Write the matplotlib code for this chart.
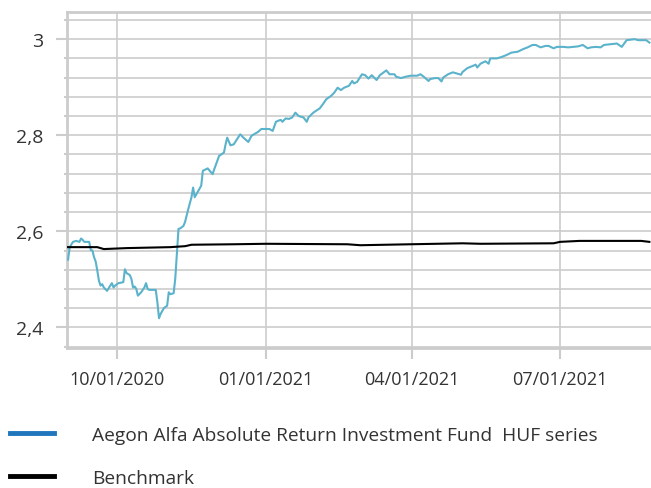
import numpy as np, pandas as pd
import matplotlib; matplotlib.use("Agg")
import matplotlib.pyplot as plt
import matplotlib.dates as mdates
from matplotlib.lines import Line2D
from matplotlib.ticker import FuncFormatter, MultipleLocator

FUND_COL, FUND_LEG, BENCH_COL, GRID = "#5ab3cb", "#1f76bd", "#000000", "#cccccc"
TXT = "#333333"

plt.rcParams.update({
    "font.family": ["Open Sans", "DejaVu Sans"],
    "font.size": 13,
})

# fund price (HUF series)
fund_dates = [
    "2020-09-01", "2020-09-02", "2020-09-04", "2020-09-06", "2020-09-08", "2020-09-09",
    "2020-09-10", "2020-09-11", "2020-09-14", "2020-09-15", "2020-09-16", "2020-09-17",
    "2020-09-18", "2020-09-19", "2020-09-20", "2020-09-21", "2020-09-22", "2020-09-23",
    "2020-09-25", "2020-09-27", "2020-09-28", "2020-09-29", "2020-09-30", "2020-10-02",
    "2020-10-05", "2020-10-06", "2020-10-07", "2020-10-09", "2020-10-10", "2020-10-11",
    "2020-10-12", "2020-10-13", "2020-10-14", "2020-10-16", "2020-10-18", "2020-10-19",
    "2020-10-20", "2020-10-21", "2020-10-25", "2020-10-26", "2020-10-27", "2020-10-28",
    "2020-10-30", "2020-11-01", "2020-11-02", "2020-11-03", "2020-11-05", "2020-11-06",
    "2020-11-08", "2020-11-09", "2020-11-11", "2020-11-12", "2020-11-14", "2020-11-16",
    "2020-11-17", "2020-11-18", "2020-11-22", "2020-11-23", "2020-11-26", "2020-11-29",
    "2020-11-30", "2020-12-03", "2020-12-06", "2020-12-07", "2020-12-08", "2020-12-10",
    "2020-12-12", "2020-12-16", "2020-12-18", "2020-12-21", "2020-12-23", "2020-12-27",
    "2020-12-29", "2021-01-03", "2021-01-04", "2021-01-05", "2021-01-07", "2021-01-09",
    "2021-01-10", "2021-01-11", "2021-01-13", "2021-01-15", "2021-01-17", "2021-01-19",
    "2021-01-21", "2021-01-24", "2021-01-26", "2021-01-27", "2021-01-30", "2021-02-03",
    "2021-02-05", "2021-02-07", "2021-02-10", "2021-02-12", "2021-02-14", "2021-02-16",
    "2021-02-18", "2021-02-21", "2021-02-23", "2021-02-24", "2021-02-26", "2021-03-01",
    "2021-03-03", "2021-03-05", "2021-03-07", "2021-03-10", "2021-03-12", "2021-03-16",
    "2021-03-18", "2021-03-21", "2021-03-22", "2021-03-25", "2021-03-28", "2021-03-31",
    "2021-04-04", "2021-04-06", "2021-04-08", "2021-04-11", "2021-04-12", "2021-04-15",
    "2021-04-17", "2021-04-19", "2021-04-20", "2021-04-23", "2021-04-26", "2021-04-30",
    "2021-05-01", "2021-05-02", "2021-05-05", "2021-05-08", "2021-05-10", "2021-05-11",
    "2021-05-13", "2021-05-16", "2021-05-18", "2021-05-19", "2021-05-23", "2021-05-26",
    "2021-05-29", "2021-06-01", "2021-06-05", "2021-06-08", "2021-06-11", "2021-06-14",
    "2021-06-16", "2021-06-19", "2021-06-22", "2021-06-24", "2021-06-27", "2021-06-29",
    "2021-07-03", "2021-07-06", "2021-07-09", "2021-07-12", "2021-07-15", "2021-07-18",
    "2021-07-20", "2021-07-23", "2021-07-26", "2021-07-28", "2021-08-02", "2021-08-05",
    "2021-08-08", "2021-08-11", "2021-08-16", "2021-08-18", "2021-08-23", "2021-08-25",
]
fund_values = [
    2.541, 2.567, 2.578, 2.580, 2.578, 2.585,
    2.582, 2.578, 2.578, 2.561, 2.560, 2.546,
    2.537, 2.518, 2.497, 2.487, 2.490, 2.483,
    2.476, 2.487, 2.492, 2.483, 2.487, 2.492,
    2.494, 2.521, 2.513, 2.509, 2.501, 2.483,
    2.485, 2.480, 2.466, 2.473, 2.483, 2.492,
    2.480, 2.478, 2.478, 2.452, 2.419, 2.428,
    2.440, 2.445, 2.473, 2.469, 2.471, 2.501,
    2.605, 2.606, 2.611, 2.619, 2.646, 2.671,
    2.691, 2.671, 2.695, 2.726, 2.731, 2.719,
    2.729, 2.757, 2.764, 2.781, 2.795, 2.779,
    2.781, 2.802, 2.795, 2.786, 2.799, 2.807,
    2.813, 2.813, 2.811, 2.809, 2.828, 2.831,
    2.832, 2.828, 2.835, 2.834, 2.837, 2.847,
    2.840, 2.837, 2.828, 2.837, 2.847, 2.856,
    2.865, 2.875, 2.882, 2.889, 2.899, 2.894,
    2.899, 2.903, 2.913, 2.908, 2.911, 2.927,
    2.925, 2.918, 2.925, 2.915, 2.925, 2.935,
    2.927, 2.927, 2.922, 2.919, 2.922, 2.924,
    2.924, 2.927, 2.922, 2.913, 2.917, 2.919,
    2.919, 2.912, 2.920, 2.927, 2.931, 2.927,
    2.926, 2.932, 2.940, 2.944, 2.947, 2.941,
    2.949, 2.954, 2.949, 2.960, 2.960, 2.963,
    2.967, 2.972, 2.974, 2.979, 2.983, 2.988,
    2.988, 2.983, 2.986, 2.986, 2.981, 2.984,
    2.984, 2.983, 2.984, 2.985, 2.988, 2.981,
    2.983, 2.984, 2.983, 2.988, 2.990, 2.991,
    2.984, 2.998, 3.000, 2.998, 2.998, 2.993,
]

bench_dates = [
    "2020-09-01", "2020-09-19", "2020-09-23", "2020-10-07", "2020-11-03", "2020-11-12",
    "2020-11-16", "2020-12-12", "2021-01-01", "2021-02-20", "2021-02-28", "2021-03-31",
    "2021-05-02", "2021-05-13", "2021-06-27", "2021-07-01", "2021-07-13", "2021-08-20",
    "2021-08-25",
]
bench_values = [
    2.567, 2.567, 2.563, 2.565, 2.567, 2.569,
    2.572, 2.573, 2.574, 2.573, 2.571, 2.573,
    2.575, 2.574, 2.575, 2.578, 2.580, 2.580,
    2.578,
]

fund_label = "Aegon Alfa Absolute Return Investment Fund  HUF series"
bench_label = "Benchmark"
x_ticks = ["2020-10-01", "2021-01-01", "2021-04-01", "2021-07-01"]

fd = pd.to_datetime(fund_dates)
bd = pd.to_datetime(bench_dates)

fig = plt.figure(figsize=(6.51, 4.89), dpi=100)
ax = fig.add_axes([0.1025, 0.2863, 0.8975, 0.6865])

ax.plot(fd, fund_values, color=FUND_COL, lw=1.5, zorder=3)
ax.plot(bd, bench_values, color=BENCH_COL, lw=1.5, zorder=3)

ax.set_xlim(pd.Timestamp("2020-08-31 04:00"), pd.Timestamp("2021-08-26"))
ax.set_ylim(2.357, 3.056)

ax.set_xticks(pd.to_datetime(x_ticks))
ax.xaxis.set_major_formatter(mdates.DateFormatter("%m/%d/%Y"))
ax.yaxis.set_major_locator(MultipleLocator(0.2))
ax.yaxis.set_minor_locator(MultipleLocator(0.04))
ax.yaxis.set_major_formatter(FuncFormatter(lambda v, p: f"{v:g}".replace(".", ",")))

ax.grid(True, which="both", axis="y", color=GRID, lw=1.2, zorder=0)
ax.grid(True, which="major", axis="x", color=GRID, lw=1.2, zorder=0)
ax.set_axisbelow(True)

for s in ["left", "bottom", "top"]:
    ax.spines[s].set_color(GRID)
    ax.spines[s].set_linewidth(2)
ax.spines["right"].set_visible(False)

ax.tick_params(axis="y", which="major", length=8, width=1.5, color=GRID,
               labelcolor=TXT, labelsize=14, pad=9)
ax.tick_params(axis="y", which="minor", length=2.5, width=1.5, color=GRID)
ax.tick_params(axis="x", which="major", length=8, width=1.5, color=GRID,
               labelcolor=TXT, labelsize=13, pad=8)

handles = [Line2D([], [], color=FUND_LEG, lw=3.5), Line2D([], [], color=BENCH_COL, lw=3.5)]
fig.legend(handles, [fund_label, bench_label], loc="upper left",
           bbox_to_anchor=(0.0, 0.147), frameon=False, fontsize=13.8,
           handlelength=2.3, handletextpad=2.0, labelspacing=1.3, borderpad=0,
           labelcolor=TXT)

fig.savefig("out.png", dpi=100)
